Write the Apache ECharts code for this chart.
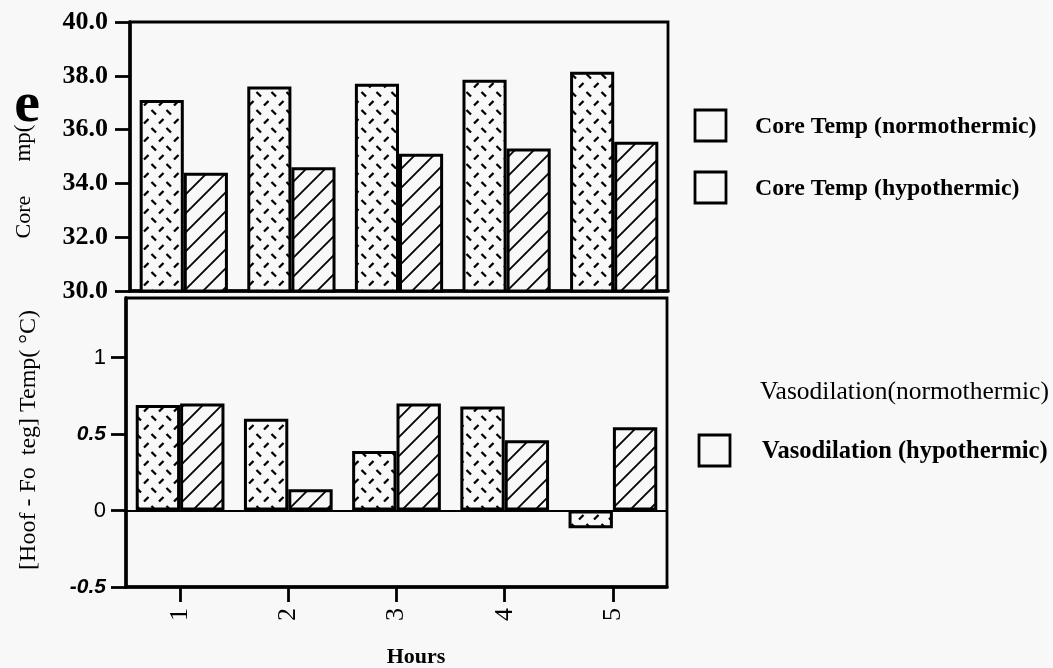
<!DOCTYPE html>
<html><head><meta charset="utf-8">
<script src="https://cdn.jsdelivr.net/npm/echarts@6/dist/echarts.min.js"></script>
<style>html,body{margin:0;padding:0;background:#f8f8f8}#c{width:1053px;height:668px}</style>
</head><body><div id="c"></div>
<script>
// ---- data ----
const hours = ['1', '2', '3', '4', '5'];
const coreNormo = [37.1, 37.6, 37.7, 37.85, 38.15];
const coreHypo = [34.4, 34.6, 35.1, 35.3, 35.55];
const vasoNormo = [0.69, 0.60, 0.39, 0.68, -0.115];
const vasoHypo = [0.70, 0.14, 0.70, 0.46, 0.545];
const coreAxis = { min: 30, max: 40, interval: 2 };
const vasoAxis = { min: -0.5, max: 1.39, interval: 0.5 };
const seriesNames = ['Core Temp (normothermic)', 'Core Temp (hypothermic)', 'Vasodilation(normothermic)', 'Vasodilation (hypothermic)'];

const BG = '#f8f8f8';
const SERIF = '"Liberation Serif", "Times New Roman", serif';
const SANS = '"Liberation Sans", Arial, sans-serif';

function dashPattern() {
  const w = 15, h = 18;
  const c = document.createElement('canvas'); c.width = w; c.height = h;
  const g = c.getContext('2d');
  g.fillStyle = BG; g.fillRect(0, 0, w, h);
  g.strokeStyle = '#000'; g.lineWidth = 2.3;
  g.beginPath();
  g.moveTo(1.5, 2); g.lineTo(6, 6.5);      // "\"
  g.moveTo(9, 15.5); g.lineTo(13.5, 11);   // "/"
  g.stroke();
  return c;
}
function hatchPattern() {
  const s = 19;
  const c = document.createElement('canvas'); c.width = s; c.height = s;
  const g = c.getContext('2d');
  g.fillStyle = BG; g.fillRect(0, 0, s, s);
  g.strokeStyle = '#000'; g.lineWidth = 1.8;
  g.beginPath();
  g.moveTo(-1, s + 1); g.lineTo(s + 1, -1);
  g.moveTo(-3, 3); g.lineTo(3, -3);
  g.moveTo(s - 3, s + 3); g.lineTo(s + 3, s - 3);
  g.stroke();
  return c;
}
const dashFill = { image: dashPattern(), repeat: 'repeat' };
const hatchFill = { image: hatchPattern(), repeat: 'repeat' };

const chart = echarts.init(document.getElementById('c'), null, { renderer: 'canvas' });

const barStyle = (fill) => ({ color: fill, borderColor: '#000', borderWidth: 3 });

const option = {
  animation: false,
  backgroundColor: BG,
  grid: [
    { left: 130, top: 22, width: 538, height: 269, show: true, borderColor: '#000', borderWidth: 2.8, backgroundColor: 'transparent' },
    { left: 126, top: 298, width: 541, height: 289, show: true, borderColor: '#000', borderWidth: 2.8, backgroundColor: 'transparent' }
  ],
  xAxis: [
    { type: 'category', gridIndex: 0, data: hours,
      axisLine: { show: true, lineStyle: { color: '#000', width: 3.5 } },
      axisTick: { show: false }, axisLabel: { show: false }, splitLine: { show: false } },
    { type: 'category', gridIndex: 1, data: hours, position: 'bottom',
      axisLine: { show: true, onZero: false, lineStyle: { color: '#000', width: 3.5 } },
      axisTick: { show: true, alignWithLabel: true, length: 15, lineStyle: { color: '#000', width: 2.8 } },
      axisLabel: { rotate: 90, margin: 21, color: '#000', fontFamily: SERIF, fontSize: 26 },
      splitLine: { show: false } }
  ],
  yAxis: [
    { type: 'value', gridIndex: 0, min: coreAxis.min, max: coreAxis.max, interval: coreAxis.interval,
      axisLine: { show: true, lineStyle: { color: '#000', width: 3.5 } },
      axisTick: { show: true, length: 15, lineStyle: { color: '#000', width: 2.8 } },
      axisLabel: { margin: 22, color: '#000', fontFamily: SERIF, fontWeight: 'bold', fontSize: 26,
        formatter: v => v.toFixed(1) },
      splitLine: { show: false } },
    { type: 'value', gridIndex: 1, min: vasoAxis.min, max: vasoAxis.max, interval: vasoAxis.interval,
      axisLine: { show: true, lineStyle: { color: '#000', width: 3.5 } },
      axisTick: { show: true, length: 15, lineStyle: { color: '#000', width: 2.8 } },
      axisLabel: { margin: 20, color: '#000', showMaxLabel: false,
        formatter: v => {
          if (v > 1.2) return '';
          const s = String(v);
          return (Math.abs(v) === 0.5) ? '{bi|' + s + '}' : '{r|' + s + '}';
        },
        rich: {
          bi: { fontFamily: SANS, fontWeight: 'bold', fontStyle: 'italic', fontSize: 21, color: '#000' },
          r: { fontFamily: SANS, fontSize: 22, color: '#000' }
        } },
      splitLine: { show: false } }
  ],
  series: [
    { name: seriesNames[0], type: 'bar', xAxisIndex: 0, yAxisIndex: 0, data: coreNormo,
      barGap: '0%', barCategoryGap: '18%', itemStyle: barStyle(dashFill) },
    { name: seriesNames[1], type: 'bar', xAxisIndex: 0, yAxisIndex: 0, data: coreHypo,
      barGap: '0%', barCategoryGap: '18%', itemStyle: barStyle(hatchFill) },
    { name: seriesNames[2], type: 'bar', xAxisIndex: 1, yAxisIndex: 1, data: vasoNormo,
      barGap: '0%', barCategoryGap: '18%', itemStyle: barStyle(dashFill),
      markLine: { silent: true, symbol: ['none', 'none'], label: { show: false },
        lineStyle: { color: '#000', width: 2.2, type: 'solid' }, data: [{ yAxis: 0 }] } },
    { name: seriesNames[3], type: 'bar', xAxisIndex: 1, yAxisIndex: 1, data: vasoHypo,
      barGap: '0%', barCategoryGap: '18%', itemStyle: barStyle(hatchFill) }
  ],
  graphic: [
    // y-axis titles
    { type: 'text', x: 24, y: 217, rotation: Math.PI / 2,
      style: { text: 'Core', font: '22px ' + SERIF, fill: '#000', align: 'center', verticalAlign: 'middle' } },
    { type: 'text', x: 24, y: 143, rotation: Math.PI / 2,
      style: { text: 'mp(', font: '23px ' + SERIF, fill: '#000', align: 'center', verticalAlign: 'middle' } },
    { type: 'text', x: 27, y: 106,
      style: { text: 'e', font: 'bold 58px ' + SERIF, fill: '#000', align: 'center', verticalAlign: 'middle' } },
    { type: 'text', x: 29, y: 440, rotation: Math.PI / 2,
      style: { text: '[Hoof - Fo  teg] Temp( °C)', font: '24px ' + SERIF, fill: '#000', align: 'center', verticalAlign: 'middle' } },
    // x-axis title
    { type: 'text', x: 416, y: 657,
      style: { text: 'Hours', font: 'bold 22px ' + SERIF, fill: '#000', align: 'center', verticalAlign: 'middle' } },
    // legend
    { type: 'rect', shape: { x: 695, y: 110, width: 31, height: 31 }, style: { fill: BG, stroke: '#000', lineWidth: 2.8 } },
    { type: 'text', x: 755, y: 127, style: { text: seriesNames[0], font: 'bold 23.8px ' + SERIF, fill: '#000', verticalAlign: 'middle' } },
    { type: 'rect', shape: { x: 695, y: 172, width: 31, height: 31 }, style: { fill: BG, stroke: '#000', lineWidth: 2.8 } },
    { type: 'text', x: 755, y: 189, style: { text: seriesNames[1], font: 'bold 23.8px ' + SERIF, fill: '#000', verticalAlign: 'middle' } },
    { type: 'text', x: 760, y: 392, style: { text: seriesNames[2], font: '25.5px ' + SERIF, fill: '#000', verticalAlign: 'middle' } },
    { type: 'rect', shape: { x: 699, y: 435, width: 31, height: 31 }, style: { fill: BG, stroke: '#000', lineWidth: 2.8 } },
    { type: 'text', x: 762, y: 452, style: { text: seriesNames[3], font: 'bold 24.5px ' + SERIF, fill: '#000', verticalAlign: 'middle' } }
  ]
};
chart.setOption(option);
</script>
</body></html>
